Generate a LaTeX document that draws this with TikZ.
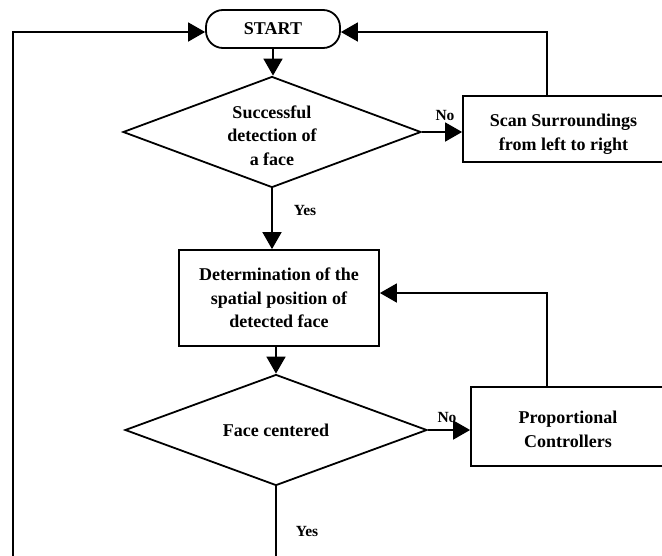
\documentclass[tikz,border=0pt]{standalone}
\usepackage{fontspec}
\setmainfont{Liberation Serif}
\usetikzlibrary{arrows.meta,shapes.geometric,calc}
\tikzset{
  ln/.style={line width=1.8pt},
  arr/.style={ln,-{Triangle[length=17pt,width=19pt]}},
  txt/.style={font=\bfseries\fontsize{18}{23.5}\selectfont,align=center},
  lbl/.style={font=\bfseries\fontsize{15.5}{17}\selectfont,inner sep=0pt},
  boxx/.style={draw,ln,rectangle,txt,inner sep=0pt},
  dia/.style={draw,ln,diamond,txt,inner sep=0pt},
  term/.style={draw,ln,rectangle,rounded corners=17pt,txt,inner sep=0pt}
}
\begin{document}
\begin{tikzpicture}[x=1pt,y=-1pt]
\useasboundingbox (0,0) rectangle (662,555);
\clip (0,0) rectangle (662,555);
\node[term,minimum width=134pt,minimum height=38pt] (start) at (273,29) {START};
\node[dia,aspect=2.68,minimum width=298pt,minimum height=111pt] (d1) at (272,132) {\rule{0pt}{20pt}Successful\\detection of\\a face};
\node[boxx,minimum width=201pt,minimum height=66pt] (scan) at (563.5,129) {\rule{0pt}{23pt}Scan Surroundings\\from left to right};
\node[boxx,minimum width=200pt,minimum height=96pt] (pos) at (279,298) {Determination of the\\spatial position of\\detected face};
\node[dia,aspect=2.72,minimum width=302pt,minimum height=111pt] (d2) at (276,430) {Face centered};
\node[boxx,minimum width=194pt,minimum height=79pt] (prop) at (568,426.5) {\rule{0pt}{18pt}Proportional\\Controllers};
\coordinate (xs) at (547,0);
\coordinate (bl) at (13,560);
\coordinate (bm) at (276,560);
% labels
\node[lbl] (no1) at (445,115) {No};
\node[lbl] (yes1) at (305,210) {Yes};
\node[lbl] (no2) at (447,417) {No};
\node[lbl] (yes2) at (307,531) {Yes};
% connectors
\draw[arr] (start.south) -- (start.south |- d1.north);
\draw[arr] (d1.east) -- (d1.east -| scan.west);
\draw[arr] (d1.south) -- (d1.south |- pos.north);
\draw[arr] (pos.south -| d2.north) -- (d2.north);
\draw[arr] (d2.east) -- (d2.east -| prop.west);
\draw[ln] (d2.south) -- (bm);
\draw[arr] (bl) |- ([yshift=-3pt]start.west);
\draw[arr] (scan.north -| xs) |- ([yshift=-3pt]start.east);
\draw[arr] (prop.north -| xs) |- ([yshift=5pt]pos.east);
\end{tikzpicture}
\end{document}
